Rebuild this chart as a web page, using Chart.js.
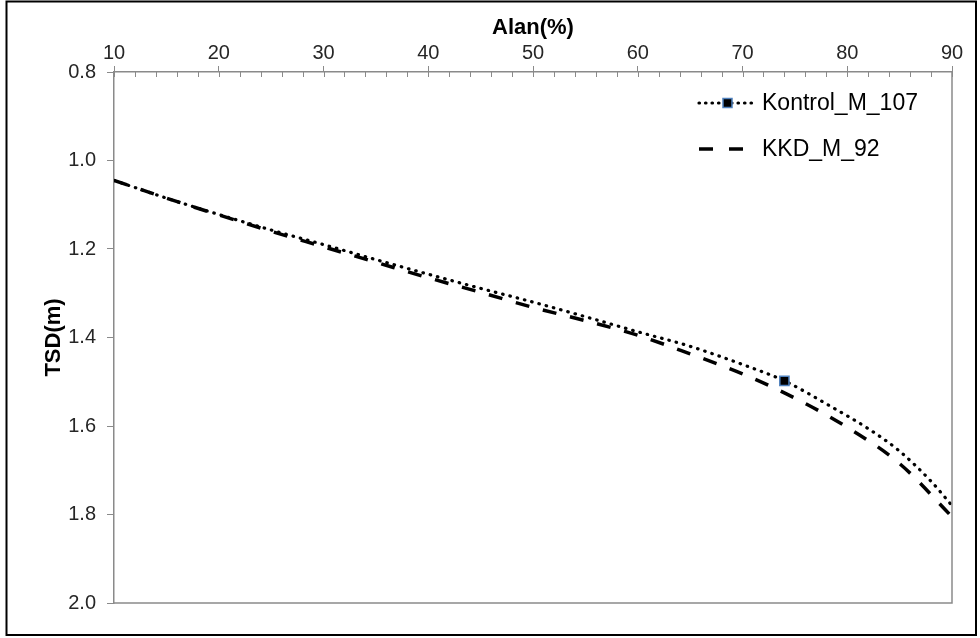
<!DOCTYPE html>
<html>
<head>
<meta charset="utf-8">
<title>TSD - Alan</title>
<script src="https://cdn.jsdelivr.net/npm/chart.js@4.4.1/dist/chart.umd.min.js"></script>
<style>
  html, body { margin: 0; padding: 0; background: #ffffff; }
  #wrap { width: 980px; height: 638px; position: relative; }
  canvas { display: block; }
</style>
</head>
<body>
<div id="wrap"><canvas id="chart" width="980" height="638"></canvas></div>
<script>
// Area (%) versus depth TSD (m) for the two series
const kontrolLabel = 'Kontrol_M_107';
const kontrolAlan = [10, 15, 20, 25, 30, 35, 40, 45, 50, 55, 60, 65, 70, 74, 78, 82, 85, 88, 90];
const kontrolTSD  = [1.045, 1.085, 1.122, 1.157, 1.190, 1.224, 1.257, 1.289, 1.320, 1.353, 1.387, 1.420, 1.461, 1.498, 1.550, 1.606, 1.657, 1.725, 1.780];
const kontrolMarkerAlan = 74;

const kkdLabel = 'KKD_M_92';
const kkdAlan = [10, 15, 20, 25, 30, 35, 40, 45, 50, 55, 60, 65, 70, 75, 80, 85, 90];
const kkdTSD  = [1.045, 1.085, 1.123, 1.160, 1.195, 1.230, 1.265, 1.298, 1.332, 1.362, 1.395, 1.437, 1.482, 1.537, 1.603, 1.685, 1.805];

const xTitle = 'Alan(%)';
const yTitle = 'TSD(m)';
const xTicks = [10, 20, 30, 40, 50, 60, 70, 80, 90];
const yTicks = [0.8, 1.0, 1.2, 1.4, 1.6, 1.8, 2.0];

const toPoints = (xs, ys) => xs.map((x, i) => ({ x: x, y: ys[i] }));

const AXIS_GRAY = '#8a8a8a';
const MARKER_BLUE = '#4f81bd';
const FONT = '"Liberation Sans", Arial, sans-serif';

// white page with a black frame around the whole figure
const framePlugin = {
  id: 'frame',
  beforeDraw(chart) {
    const c = chart.ctx;
    c.save();
    c.fillStyle = '#ffffff';
    c.fillRect(0, 0, chart.width, chart.height);
    c.strokeStyle = '#000000';
    c.lineWidth = 2;
    c.strokeRect(6.5, 1.5, 969.5, 633.5);
    c.restore();
  }
};

// right/bottom edges of the plot area plus the small tick marks of the top axis
const plotEdgesPlugin = {
  id: 'plotEdges',
  afterDraw(chart) {
    const c = chart.ctx;
    const a = chart.chartArea;
    const xs = chart.scales.x;
    c.save();
    c.strokeStyle = AXIS_GRAY;
    c.lineWidth = 1.5;
    c.beginPath();
    c.moveTo(a.right, a.top);
    c.lineTo(a.right, a.bottom);
    c.lineTo(a.left, a.bottom);
    c.stroke();
    c.lineWidth = 1;
    c.beginPath();
    for (let v = xs.min; v <= xs.max + 1e-9; v += 2) {
      const px = Math.round(xs.getPixelForValue(v)) + 0.5;
      c.moveTo(px, a.top);
      c.lineTo(px, a.top + 5);
    }
    c.stroke();
    c.restore();
  }
};

// legend box: line sample (with marker) followed by the series name
const legendPlugin = {
  id: 'sampleLegend',
  afterDraw(chart) {
    const c = chart.ctx;
    const x0 = 699, x1 = 752, textX = 762;
    const rows = [103, 149];
    c.save();
    chart.data.datasets.forEach((ds, i) => {
      const y = rows[i];
      c.strokeStyle = ds.borderColor;
      c.lineWidth = ds.borderWidth;
      c.lineCap = ds.borderCapStyle || 'butt';
      c.setLineDash(ds.legendDash || ds.borderDash || []);
      c.beginPath();
      c.moveTo(x0, y);
      c.lineTo(i === 0 ? x1 : 744, y);
      c.stroke();
      c.setLineDash([]);
      if (i === 0) {
        c.fillStyle = ds.pointBackgroundColor;
        c.strokeStyle = ds.pointBorderColor;
        c.lineWidth = 1.5;
        c.fillRect(723, y - 4.5, 9, 9);
        c.strokeRect(723, y - 4.5, 9, 9);
      }
      c.fillStyle = '#000000';
      c.font = '23px ' + FONT;
      c.textAlign = 'left';
      c.textBaseline = 'middle';
      c.fillText(ds.label, textX, y + 1);
    });
    c.restore();
  }
};

new Chart(document.getElementById('chart'), {
  type: 'line',
  data: {
    datasets: [
      {
        label: kontrolLabel,
        data: toPoints(kontrolAlan, kontrolTSD),
        borderColor: '#000000',
        borderWidth: 3.2,
        borderDash: [0.5, 7],
        legendDash: [0.5, 6],
        borderCapStyle: 'round',
        cubicInterpolationMode: 'monotone',
        pointStyle: 'rect',
        pointRadius: (ctx) => (ctx.raw && ctx.raw.x === kontrolMarkerAlan ? 6.5 : 0),
        pointBackgroundColor: '#000000',
        pointBorderColor: MARKER_BLUE,
        pointBorderWidth: 1.5,
        fill: false
      },
      {
        label: kkdLabel,
        data: toPoints(kkdAlan, kkdTSD),
        borderColor: '#000000',
        borderWidth: 3.5,
        borderDash: [14, 14],
        legendDash: [14, 16],
        borderCapStyle: 'butt',
        cubicInterpolationMode: 'monotone',
        pointRadius: 0,
        fill: false
      }
    ]
  },
  options: {
    responsive: false,
    animation: false,
    devicePixelRatio: 1,
    events: [],
    layout: { padding: { left: 0, top: 0, right: 28, bottom: 35 } },
    plugins: {
      legend: { display: false },
      tooltip: { enabled: false }
    },
    scales: {
      x: {
        type: 'linear',
        position: 'top',
        min: xTicks[0],
        max: xTicks[xTicks.length - 1],
        afterBuildTicks: (scale) => { scale.ticks = xTicks.map(v => ({ value: v })); },
        afterFit: (scale) => { scale.height = 72; },
        ticks: {
          color: '#262626',
          font: { family: FONT, size: 20 },
          padding: 1,
          maxRotation: 0,
          callback: (v) => String(v)
        },
        grid: { drawOnChartArea: false, drawTicks: true, tickLength: 6, color: AXIS_GRAY, lineWidth: 1 },
        border: { display: true, color: AXIS_GRAY, width: 1.5 },
        title: {
          display: true,
          text: xTitle,
          color: '#000000',
          font: { family: FONT, size: 22, weight: 'bold' },
          padding: { top: 15, bottom: 0 }
        }
      },
      y: {
        type: 'linear',
        reverse: true,
        min: yTicks[0],
        max: yTicks[yTicks.length - 1],
        afterBuildTicks: (scale) => { scale.ticks = yTicks.map(v => ({ value: v })); },
        afterFit: (scale) => { scale.width = 114; },
        ticks: {
          color: '#262626',
          font: { family: FONT, size: 20 },
          padding: 11,
          callback: (v) => Number(v).toFixed(1)
        },
        grid: { drawOnChartArea: false, drawTicks: true, tickLength: 7, color: AXIS_GRAY, lineWidth: 1 },
        border: { display: true, color: AXIS_GRAY, width: 1.5 },
        title: {
          display: true,
          text: yTitle,
          color: '#000000',
          font: { family: FONT, size: 22, weight: 'bold' },
          padding: { top: 41, bottom: 0 }
        }
      }
    }
  },
  plugins: [framePlugin, plotEdgesPlugin, legendPlugin]
});
</script>
</body>
</html>
